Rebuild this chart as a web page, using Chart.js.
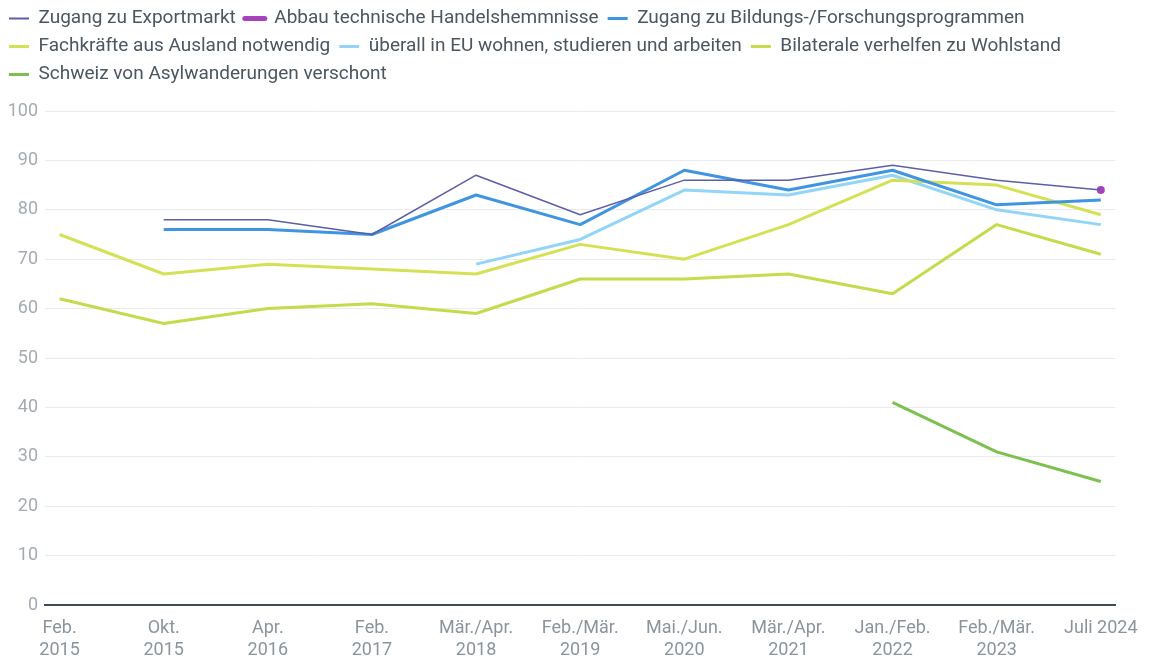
<!DOCTYPE html>
<html>
<head>
<meta charset="utf-8">
<script src="https://cdn.jsdelivr.net/npm/chart.js@4"></script>
<style>
  html, body { margin: 0; padding: 0; background: #fff; }
  #wrap { width: 1151px; height: 659px; }
</style>
</head>
<body>
<div id="wrap"><canvas id="ex_chart"></canvas></div>
<script>
// survey waves (x axis), two-line labels
let waves = [
  ['Feb.', '2015'], ['Okt.', '2015'], ['Apr.', '2016'], ['Feb.', '2017'],
  ['Mär./Apr.', '2018'], ['Feb./Mär.', '2019'], ['Mai./Jun.', '2020'],
  ['Mär./Apr.', '2021'], ['Jan./Feb.', '2022'], ['Feb./Mär.', '2023'], ['Juli 2024']
];

let exportmarkt   = [null, 78, 78, 75, 87, 79, 86, 86, 89, 86, 84];
let handel        = [null, null, null, null, null, null, null, null, null, null, 84];
let bildung       = [null, 76, 76, 75, 83, 77, 88, 84, 88, 81, 82];
let fachkraefte   = [75, 67, 69, 68, 67, 73, 70, 77, 86, 85, 79];
let ueberallEU    = [null, null, null, null, 69, 74, 84, 83, 87, 80, 77];
let wohlstand     = [62, 57, 60, 61, 59, 66, 66, 67, 63, 77, 71];
let asyl          = [null, null, null, null, null, null, null, null, 41, 31, 25];

let yTicks = [0, 10, 20, 30, 40, 50, 60, 70, 80, 90, 100];

function pts(arr) {
  return arr.map((v, i) => ({ x: i, y: v }));
}

// a bit more room between legend and plot
const legendGap = {
  id: 'legendGap',
  beforeInit(chart) {
    const fit = chart.legend.fit;
    chart.legend.fit = function () {
      fit.bind(chart.legend)();
      this.height += 17;
    };
  }
};

let ctx = document.getElementById('ex_chart');

let data = {
  datasets: [
    { label: 'Zugang zu Exportmarkt', data: pts(exportmarkt), borderColor: '#5c5fa8', backgroundColor: '#5c5fa8', borderWidth: 1.5, legendWidth: 2 },
    { label: 'Abbau technische Handelshemmnisse', data: pts(handel), borderColor: '#a543bd', backgroundColor: '#a543bd', borderWidth: 2, pointRadius: 3, legendWidth: 5, legendCap: 'round' },
    { label: 'Zugang zu Bildungs-/Forschungsprogrammen', data: pts(bildung), borderColor: '#3f95e0', backgroundColor: '#3f95e0', borderWidth: 3, legendWidth: 3 },
    { label: 'Fachkräfte aus Ausland notwendig', data: pts(fachkraefte), borderColor: '#d5e155', backgroundColor: '#d5e155', borderWidth: 3, legendWidth: 3 },
    { label: 'überall in EU wohnen, studieren und arbeiten', data: pts(ueberallEU), borderColor: '#93d5f6', backgroundColor: '#93d5f6', borderWidth: 3, legendWidth: 3 },
    { label: 'Bilaterale verhelfen zu Wohlstand', data: pts(wohlstand), borderColor: '#c6da4c', backgroundColor: '#c6da4c', borderWidth: 3, legendWidth: 3 },
    { label: 'Schweiz von Asylwanderungen verschont', data: pts(asyl), borderColor: '#7cc150', backgroundColor: '#7cc150', borderWidth: 3, legendWidth: 3 }
  ]
};

let options = {
  responsive: true,
  maintainAspectRatio: false,
  animation: false,
  layout: { padding: { left: 0, right: 31, top: 0, bottom: 0 } },
  elements: {
    point: { radius: 0, hoverRadius: 0 },
    line: { tension: 0, borderJoinStyle: 'round' }
  },
  plugins: {
    tooltip: { enabled: false },
    legend: {
      position: 'top',
      align: 'start',
      labels: {
        usePointStyle: true,
        pointStyleWidth: 20,
        padding: 9,
        color: '#4b5661',
        font: { family: 'Roboto', size: 19 },
        generateLabels: function (chart) {
          return chart.data.datasets.map((ds, i) => ({
            text: ds.label,
            fillStyle: ds.borderColor,
            strokeStyle: ds.borderColor,
            lineWidth: ds.legendWidth,
            lineCap: ds.legendCap || 'butt',
            pointStyle: 'line',
            fontColor: '#4b5661',
            hidden: false,
            datasetIndex: i
          }));
        }
      }
    }
  },
  scales: {
    x: {
      type: 'linear',
      min: -0.14,
      max: 10.14,
      border: { display: true, color: '#3d4c5a', width: 2 },
      grid: { display: false, drawTicks: false },
      afterFit: function (scale) { scale.height = 54; },
      ticks: {
        stepSize: 1,
        includeBounds: false,
        autoSkip: false,
        maxRotation: 0,
        padding: 13,
        color: '#8b949d',
        font: { family: 'Roboto', size: 18, lineHeight: 1.2 },
        callback: function (v) { return waves[v]; }
      }
    },
    y: {
      min: 0,
      max: 100,
      border: { display: false },
      grid: { color: '#ebebeb', lineWidth: 1, drawTicks: false },
      afterBuildTicks: function (scale) { scale.ticks = yTicks.map(v => ({ value: v })); },
      afterFit: function (scale) { scale.width = 45; },
      ticks: {
        padding: 7,
        color: '#a4abb3',
        font: { family: 'Roboto', size: 18 }
      }
    }
  }
};

let ex_chart = new Chart(ctx, {
  type: 'line',
  data: data,
  options: options,
  plugins: [legendGap]
});
</script>
</body>
</html>
